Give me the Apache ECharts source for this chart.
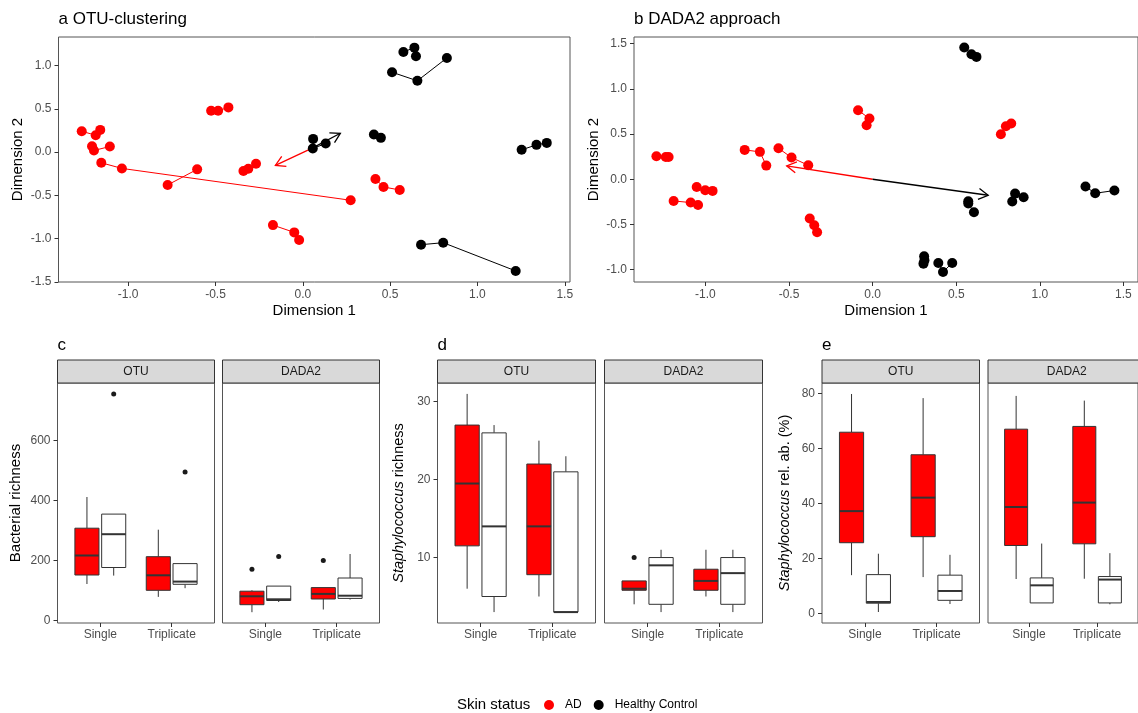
<!DOCTYPE html>
<html><head><meta charset="utf-8">
<script src="https://cdn.jsdelivr.net/npm/echarts@6/dist/echarts.min.js"></script>
<style>html,body{margin:0;padding:0;background:#fff}#c{width:1138px;height:713px}</style>
</head><body><div id="c"></div><script>
const F = 'Liberation Sans, Arial, Helvetica, sans-serif';

// ---------- Panels a / b : ordination, replicate groups ----------
const otuAD = [
  [[-1.266,0.241],[-1.186,0.195],[-1.160,0.257]],
  [[-1.207,0.069],[-1.196,0.019],[-1.105,0.065]],
  [[-1.154,-0.123],[-1.036,-0.188],[0.274,-0.556]],
  [[-0.525,0.479],[-0.485,0.479],[-0.426,0.517]],
  [[-0.774,-0.379],[-0.605,-0.199]],
  [[-0.340,-0.218],[-0.312,-0.192],[-0.268,-0.134]],
  [[0.416,-0.310],[0.462,-0.402],[0.555,-0.437]],
  [[-0.171,-0.843],[-0.049,-0.927],[-0.021,-1.015]]
];
const otuHC = [
  [[0.576,1.157],[0.639,1.207],[0.648,1.107]],
  [[0.511,0.923],[0.656,0.824],[0.825,1.088]],
  [[0.059,0.153],[0.057,0.042],[0.131,0.100]],
  [[0.407,0.203],[0.447,0.165]],
  [[1.253,0.027],[1.338,0.084],[1.397,0.107]],
  [[0.677,-1.069],[0.804,-1.046],[1.219,-1.372]]
];
const dadaAD = [
  [[-1.293,0.255],[-1.237,0.247],[-1.220,0.247]],
  [[-1.190,-0.240],[-1.088,-0.258],[-1.044,-0.284]],
  [[-1.052,-0.085],[-1.001,-0.122],[-0.957,-0.129]],
  [[-0.765,0.325],[-0.674,0.303],[-0.636,0.151]],
  [[-0.563,0.343],[-0.485,0.240],[-0.385,0.155]],
  [[-0.376,-0.435],[-0.349,-0.509],[-0.332,-0.587]],
  [[-0.087,0.764],[-0.019,0.672],[-0.036,0.598]],
  [[0.767,0.498],[0.797,0.587],[0.829,0.616]]
];
const dadaHC = [
  [[0.548,1.458],[0.591,1.384],[0.621,1.354]],
  [[0.572,-0.244],[0.572,-0.269],[0.606,-0.365]],
  [[0.835,-0.247],[0.852,-0.159],[0.903,-0.199]],
  [[1.273,-0.081],[1.331,-0.155],[1.446,-0.125]],
  [[0.308,-0.852],[0.310,-0.897],[0.304,-0.934]],
  [[0.393,-0.926],[0.421,-1.026],[0.476,-0.926]]
];
// arrows: [x0, y0, x1, y1]
const otuArrowAD = [[0.054,0.046,-0.157,-0.153]];
const otuArrowHC = [[0.054,0.046,0.215,0.218]];
const dadaArrowAD = [[0,0,-0.514,0.148]];
const dadaArrowHC = [[0,0,0.691,-0.177]];
const dimTicks = [-1.5,-1.0,-0.5,0,0.5,1.0,1.5];

// ---------- Panels c / d / e : boxplots [min, q1, median, q3, max] per category ----------
const categories = ['Single','Triplicate'];
const facets = ['OTU','DADA2'];

const richOtuAD  = [[121,151,216,307,411],[78,100,150,212,302]];
const richOtuHC  = [[149,176,287,354,354],[107,120,129,189,189]];
const richDadaAD = [[27,52,80,97,100],[36,71,88,109,109]];
const richDadaHC = [[61,66,70,114,114],[69,73,82,141,221]];
// outliers: [categoryIndex, group(0=AD,1=HC), value]
const richOtuOut  = [[0,1,754],[1,1,494]];
const richDadaOut = [[0,0,170],[0,1,213],[1,0,199]];
const richTicks = [0,200,400,600];

const staphOtuAD  = [[6,11.5,19.5,27,31],[5,7.8,14,22,25]];
const staphOtuHC  = [[3,5,14,26,27],[3,3,3,21,23]];
const staphDadaAD = [[4,5.8,6,7,7],[5,5.8,7,8.5,11]];
const staphDadaHC = [[3,4,9,10,11],[3,4,8,10,11]];
const staphOtuOut  = [];
const staphDadaOut = [[0,0,10]];
const staphTicks = [10,20,30];

const relOtuAD  = [[14,25.8,37.3,66,79.9],[13.3,28,42.2,57.8,78.4]];
const relOtuHC  = [[0.6,3.8,4.25,14.2,21.8],[3.5,4.85,8.25,14,21.4]];
const relDadaAD = [[12.6,24.8,38.8,67.1,79.2],[12.7,25.4,40.4,68.1,77.5]];
const relDadaHC = [[3.9,3.9,10.3,13,25.5],[3.4,3.9,12.4,13.5,22]];
const relOtuOut  = [];
const relDadaOut = [];
const relTicks = [0,20,40,60,80];

// ---------- layout ----------
const RED = '#FF0000', BLK = '#000000', EDGE = '#333333', BORDER = '#555555', TICKTXT = '#4D4D4D';
const grids = [
  {left:58.5, top:37, width:511.5, height:245},
  {left:634,  top:37, width:513,   height:245},
  {left:57.5, top:383, width:157, height:240},
  {left:222.5,top:383, width:157, height:240},
  {left:437.5,top:383, width:158, height:240},
  {left:604.5,top:383, width:158, height:240},
  {left:822,  top:383, width:157.5, height:240},
  {left:988,  top:383, width:157.5, height:240}
];
const DODGE = 0.1875, HALF = 0.16875;

const xAxes = [], yAxes = [], series = [];

function scatterAxes(gi, xr, yr) {
  const xt = dimTicks.filter(v=>v>=xr[0]&&v<=xr[1]);
  const yt = dimTicks.filter(v=>v>=yr[0]&&v<=yr[1]);
  xAxes.push({
    gridIndex: gi, type:'value', min:xr[0], max:xr[1], position:'bottom',
    splitLine:{show:false}, axisLine:{show:false, onZero:false},
    axisTick:{show:true, length:4, lineStyle:{color:EDGE}, customValues: xt},
    axisLabel:{color:TICKTXT, fontSize:12, fontFamily:F, margin:7, formatter:v=>v.toFixed(1), customValues: xt},
    name:'Dimension 1', nameLocation:'middle', nameGap:21,
    nameTextStyle:{color:'#000', fontSize:15, fontFamily:F}
  });
  yAxes.push({
    gridIndex: gi, type:'value', min:yr[0], max:yr[1], position:'left',
    splitLine:{show:false}, axisLine:{show:false, onZero:false},
    axisTick:{show:true, length:4, lineStyle:{color:EDGE}, customValues: yt},
    axisLabel:{color:TICKTXT, fontSize:12, fontFamily:F, margin:7, formatter:v=>v.toFixed(1), customValues: yt},
    name:'Dimension 2', nameLocation:'middle', nameGap:33,
    nameTextStyle:{color:'#000', fontSize:15, fontFamily:F}
  });
}

function groupSeries(gi, groups, color, name) {
  groups.forEach(g => {
    series.push({type:'line', xAxisIndex:gi, yAxisIndex:gi, data:g, symbol:'none', silent:true,
      lineStyle:{color:color, width:1}, z:2, animation:false});
  });
  series.push({type:'scatter', name:name, xAxisIndex:gi, yAxisIndex:gi, data:groups.flat(),
    symbol:'circle', symbolSize:10, itemStyle:{color:color, opacity:1}, z:5, animation:false});
}

function arrowSeries(gi, data, color) {
  series.push({type:'custom', xAxisIndex:gi, yAxisIndex:gi, data:data, z:4, silent:true, animation:false,
    renderItem(params, api) {
      const p0 = api.coord([api.value(0), api.value(1)]);
      const p1 = api.coord([api.value(2), api.value(3)]);
      const ang = Math.atan2(p1[1]-p0[1], p1[0]-p0[0]);
      const L = 11, a = Math.PI/6;
      const h1 = [p1[0]-L*Math.cos(ang-a), p1[1]-L*Math.sin(ang-a)];
      const h2 = [p1[0]-L*Math.cos(ang+a), p1[1]-L*Math.sin(ang+a)];
      return {type:'group', children:[
        {type:'line', shape:{x1:p0[0],y1:p0[1],x2:p1[0],y2:p1[1]}, style:{stroke:color, lineWidth:1.3}},
        {type:'polyline', shape:{points:[h1,p1,h2]}, style:{stroke:color, fill:null, lineWidth:1.3}}
      ]};
    }
  });
}

scatterAxes(0, [-1.399,1.530], [-1.50,1.33]);
groupSeries(0, otuAD, RED, 'AD');
groupSeries(0, otuHC, BLK, 'Healthy Control');
arrowSeries(0, otuArrowAD, RED);
arrowSeries(0, otuArrowHC, BLK);

scatterAxes(1, [-1.427,1.587], [-1.137,1.574]);
groupSeries(1, dadaAD, RED, 'AD');
groupSeries(1, dadaHC, BLK, 'Healthy Control');
arrowSeries(1, dadaArrowAD, RED);
arrowSeries(1, dadaArrowHC, BLK);

function boxAxes(gi, yr, ticks, yName, showY, nameGap, nameSize) {
  xAxes.push({
    gridIndex:gi, type:'value', min:0.4, max:2.6, position:'bottom', splitLine:{show:false},
    axisLine:{show:false, onZero:false},
    axisTick:{show:true, length:4, lineStyle:{color:EDGE}, customValues:[1,2]},
    axisLabel:{color:TICKTXT, fontSize:12, fontFamily:F, margin:6, customValues:[1,2],
      formatter:v=>categories[Math.round(v)-1]}
  });
  yAxes.push({
    gridIndex:gi, type:'value', min:yr[0], max:yr[1], position:'left', splitLine:{show:false},
    axisLine:{show:false, onZero:false},
    axisTick:{show:showY, length:4, lineStyle:{color:EDGE}, customValues:ticks},
    axisLabel:{show:showY, color:TICKTXT, fontSize:12, fontFamily:F, margin:7, customValues:ticks},
    name: showY ? yName : '', nameLocation:'middle', nameGap:nameGap,
    nameTextStyle:{color:'#000', fontSize:nameSize, fontFamily:F,
      rich:{i:{fontStyle:'italic', fontSize:nameSize, fontFamily:F, color:'#000'}}}
  });
}

function boxSeries(gi, stats, group, fill) {
  const data = stats.map((s, ci) => [ci + 1 + (group === 0 ? -DODGE : DODGE)].concat(s));
  series.push({type:'custom', xAxisIndex:gi, yAxisIndex:gi, data:data, z:3, silent:true, animation:false,
    renderItem(params, api) {
      const x = api.value(0);
      const tl = api.coord([x-HALF, api.value(4)]);
      const br = api.coord([x+HALF, api.value(2)]);
      const top = api.coord([x, api.value(5)]);
      const bot = api.coord([x, api.value(1)]);
      const med = api.coord([x, api.value(3)]);
      return {type:'group', children:[
        {type:'line', shape:{x1:top[0],y1:top[1],x2:top[0],y2:tl[1]}, style:{stroke:EDGE, lineWidth:1}},
        {type:'line', shape:{x1:bot[0],y1:br[1],x2:bot[0],y2:bot[1]}, style:{stroke:EDGE, lineWidth:1}},
        {type:'rect', shape:{x:tl[0],y:tl[1],width:br[0]-tl[0],height:br[1]-tl[1]}, style:{fill:fill, stroke:EDGE, lineWidth:1}},
        {type:'line', shape:{x1:tl[0],y1:med[1],x2:br[0],y2:med[1]}, style:{stroke:EDGE, lineWidth:2}}
      ]};
    }
  });
}

function outlierSeries(gi, outs) {
  if (!outs.length) return;
  series.push({type:'scatter', xAxisIndex:gi, yAxisIndex:gi, silent:true, animation:false, z:4,
    data: outs.map(o => [o[0] + 1 + (o[1] === 0 ? -DODGE : DODGE), o[2]]),
    symbol:'circle', symbolSize:5, itemStyle:{color:'#1A1A1A', opacity:1}});
}

function boxPanel(gi, yr, ticks, yName, gap, size, otuAD_, otuHC_, otuOut, dAD, dHC, dOut) {
  boxAxes(gi, yr, ticks, yName, true, gap, size);
  boxSeries(gi, otuAD_, 0, RED); boxSeries(gi, otuHC_, 1, '#FFFFFF'); outlierSeries(gi, otuOut);
  boxAxes(gi+1, yr, ticks, yName, false, gap, size);
  boxSeries(gi+1, dAD, 0, RED); boxSeries(gi+1, dHC, 1, '#FFFFFF'); outlierSeries(gi+1, dOut);
}

boxPanel(2, [-9,791], richTicks, 'Bacterial richness', 34, 15,
  richOtuAD, richOtuHC, richOtuOut, richDadaAD, richDadaHC, richDadaOut);
boxPanel(4, [1.6,32.4], staphTicks, '{i|Staphylococcus} richness', 31, 14.5,
  staphOtuAD, staphOtuHC, staphOtuOut, staphDadaAD, staphDadaHC, staphDadaOut);
boxPanel(6, [-3.4,83.9], relTicks, '{i|Staphylococcus} rel. ab. (%)', 30, 14.5,
  relOtuAD, relOtuHC, relOtuOut, relDadaAD, relDadaHC, relDadaOut);

// strips and titles
const graphic = [];
[2,3,4,5,6,7].forEach((gi, k) => {
  const g = grids[gi];
  graphic.push({type:'rect', shape:{x:g.left, y:360, width:g.width, height:23},
    style:{fill:'#D9D9D9', stroke:EDGE, lineWidth:1}, silent:true});
  graphic.push({type:'text', x:g.left + g.width/2, y:372, silent:true,
    style:{text:facets[k % 2], font:'12px ' + F, fill:'#1A1A1A', align:'center', verticalAlign:'middle'}});
});
const titles = [
  ['a OTU-clustering', 58.5, 19], ['b DADA2 approach', 634, 19],
  ['c', 57.5, 345], ['d', 437.5, 345], ['e', 822, 345]
];
titles.forEach(t => graphic.push({type:'text', x:t[1], y:t[2], silent:true,
  style:{text:t[0], font:'17px ' + F, fill:'#000', align:'left', verticalAlign:'middle'}}));
graphic.push({type:'text', x:457, y:705, silent:true,
  style:{text:'Skin status', font:'15px ' + F, fill:'#000', align:'left', verticalAlign:'middle'}});

const chart = echarts.init(document.getElementById('c'), null, {renderer:'canvas'});
chart.setOption({
  animation:false,
  backgroundColor:'#FFFFFF',
  grid: grids.map(g => Object.assign({show:true, borderColor:BORDER, borderWidth:1, backgroundColor:'transparent', containLabel:false}, g)),
  xAxis: xAxes, yAxis: yAxes, series: series, graphic: graphic,
  legend: {data:['AD','Healthy Control'], left:539, top:694, icon:'circle', itemWidth:10, itemHeight:10,
    itemGap:12, selectedMode:false, textStyle:{fontSize:12, fontFamily:F, color:'#000', padding:[0,0,0,6]}}
});
</script></body></html>
